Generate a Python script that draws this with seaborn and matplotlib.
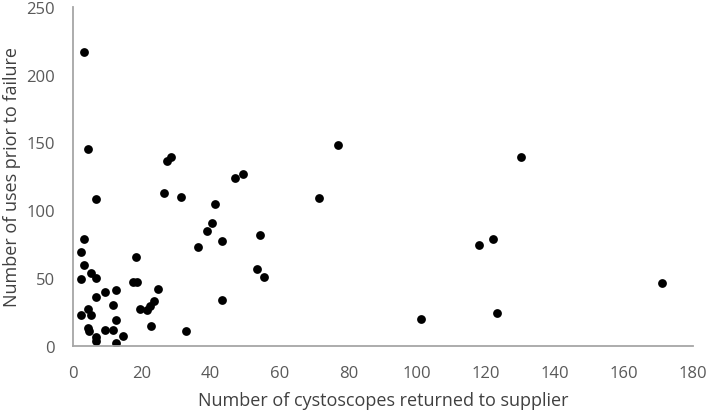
import matplotlib
matplotlib.use("Agg")
import matplotlib.pyplot as plt
import seaborn as sns
import pandas as pd

returned = [3.3, 4.4, 6.6, 3.2, 2.2, 3.2, 2.2, 5.2, 6.6, 6.6, 2.2, 4.4, 5.2, 4.4, 4.6,
            6.6, 6.6, 9.4, 9.4, 11.5, 12.4, 11.5, 12.4, 12.4, 14.5, 18.3, 17.5, 18.5,
            19.5, 21.4, 22.4, 23.5, 24.6, 22.6, 26.3, 27.4, 28.5, 31.4, 32.7, 36.3,
            39.0, 40.4, 41.3, 43.3, 43.4, 47.1, 49.4, 53.3, 54.2, 55.5, 71.4, 77.1,
            101.1, 118.0, 122.0, 123.1, 130.0, 171.0]
uses = [217, 145.5, 108, 78.5, 69.5, 59.5, 49, 54, 50, 36, 23, 27.5, 23, 13, 11,
        6.5, 4, 40, 12, 30, 41, 12, 19, 2.5, 7.5, 65.5, 47.5, 47.5,
        27.5, 26.5, 29.5, 33, 42, 15, 112.5, 136.5, 139.5, 110, 11, 73,
        84.5, 90.5, 104.5, 77, 34, 123.5, 127, 56.5, 81.5, 51, 109, 148,
        20, 74.5, 79, 24.5, 139.5, 46.5]

x_ticks = [0, 20, 40, 60, 80, 100, 120, 140, 160, 180]
y_ticks = [0, 50, 100, 150, 200, 250]

df = pd.DataFrame({"returned": returned, "uses": uses})

sns.set_theme(style="white")
plt.rcParams['font.family'] = ['Open Sans', 'DejaVu Sans']

fig = plt.figure(figsize=(7.09, 4.14), dpi=100)
ax = fig.add_axes([0.103, 0.162, 0.874, 0.819])
sns.scatterplot(data=df, x="returned", y="uses", ax=ax, color="black",
                s=40, edgecolor="black", linewidth=0)

ax.set_xlim(0, 180)
ax.set_ylim(0, 250)
ax.set_xticks(x_ticks)
ax.set_yticks(y_ticks)
ax.tick_params(axis='x', length=0, labelsize=12, labelcolor="#595959", pad=14)
ax.tick_params(axis='y', length=0, labelsize=12, labelcolor="#595959", pad=13)
for s in ["top", "right"]:
    ax.spines[s].set_visible(False)
for s in ["left", "bottom"]:
    ax.spines[s].set_color("#A6A6A6")
    ax.spines[s].set_linewidth(1.3)

ax.set_xlabel("Number of cystoscopes returned to supplier", fontsize=13, color="#404040")
ax.set_ylabel("Number of uses prior to failure", fontsize=13, color="#404040")
ax.yaxis.set_label_coords(-0.084, 0.5)
ax.xaxis.set_label_coords(0.5, -0.133)

fig.savefig("out.png", dpi=100)
